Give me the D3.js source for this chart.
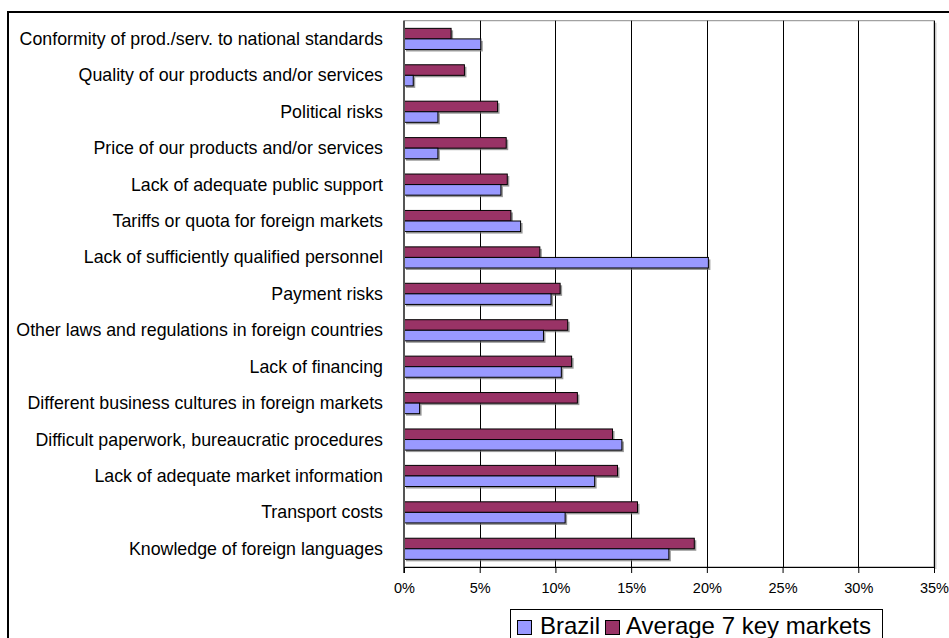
<!DOCTYPE html>
<html><head><meta charset="utf-8">
<script src="https://cdn.jsdelivr.net/npm/d3@7"></script>
<style>body{margin:0;background:#fff}svg{display:block;font-family:"Liberation Sans",Arial,sans-serif}</style>
</head><body>
<svg id="c" width="949" height="638"></svg>
<script>
const categories = [
  "Conformity of prod./serv. to national standards",
  "Quality of our products and/or services",
  "Political risks",
  "Price of our products and/or services",
  "Lack of adequate public support",
  "Tariffs or quota for foreign markets",
  "Lack of sufficiently qualified personnel",
  "Payment risks",
  "Other laws and regulations in foreign countries",
  "Lack of financing",
  "Different business cultures in foreign markets",
  "Difficult paperwork, bureaucratic procedures",
  "Lack of adequate market information",
  "Transport costs",
  "Knowledge of foreign languages"
];
const brazil = [5.07, 0.61, 2.24, 2.24, 6.40, 7.70, 20.1, 9.71, 9.21, 10.39, 1.03, 14.39, 12.59, 10.64, 17.49];
const average7 = [3.11, 3.99, 6.18, 6.75, 6.82, 7.06, 8.97, 10.31, 10.81, 11.07, 11.45, 13.77, 14.10, 15.42, 19.17];
const seriesNames = ["Average 7 key markets", "Brazil"];
const legendNames = ["Brazil", "Average 7 key markets"];
const tickValues = [0, 5, 10, 15, 20, 25, 30, 35];
const colors = {"Brazil": "#9999FF", "Average 7 key markets": "#993366"};

const svg = d3.select("#c");
const L = 404, R = 934, T = 20.7, B = 567;

// outer chart frame
svg.append("rect").attr("x", 8).attr("y", 12).attr("width", 960).attr("height", 660)
  .attr("fill", "none").attr("stroke", "#000").attr("stroke-width", 2);

const x = d3.scaleLinear().domain([0, 35]).range([L, R]);
const y = d3.scaleBand().domain(categories).range([T, B]).paddingInner(0.42).paddingOuter(0.21);
const ys = d3.scaleBand().domain(seriesNames).range([0, y.bandwidth()]);

// plot area border
svg.append("rect").attr("x", L).attr("y", T).attr("width", R - L).attr("height", B - T)
  .attr("fill", "#fff").attr("stroke", "#8c8c8c").attr("stroke-width", 1);
svg.append("line").attr("x1", R + 1.5).attr("x2", R + 1.5).attr("y1", T + 2).attr("y2", B + 2)
  .attr("stroke", "#c8c8c8").attr("stroke-width", 2);

// gridlines
svg.append("g").selectAll("line").data(tickValues.slice(1)).join("line")
  .attr("x1", d => Math.round(x(d)) + 0.5).attr("x2", d => Math.round(x(d)) + 0.5)
  .attr("y1", T).attr("y2", B).attr("stroke", "#000").attr("stroke-width", 1);

// bars
const rows = categories.map((c, i) => ({c, vals: [
  {s: "Average 7 key markets", v: average7[i]},
  {s: "Brazil", v: brazil[i]}
]}));
const g = svg.append("g");
const grp = g.selectAll("g").data(rows).join("g").attr("transform", d => `translate(0,${y(d.c)})`);
grp.selectAll("rect.sh").data(d => d.vals).join("rect").attr("class", "sh")
  .attr("x", L + 2).attr("y", d => ys(d.s) + 2)
  .attr("width", d => x(d.v) - L).attr("height", ys.bandwidth())
  .attr("fill", "#6e6e6e").attr("opacity", 0.7);
grp.selectAll("rect.bar").data(d => d.vals).join("rect").attr("class", "bar")
  .attr("x", L).attr("y", d => ys(d.s))
  .attr("width", d => x(d.v) - L).attr("height", ys.bandwidth())
  .attr("fill", d => colors[d.s]).attr("stroke", "#000").attr("stroke-width", 1);

// left axis line
svg.append("line").attr("x1", L).attr("x2", L).attr("y1", T).attr("y2", B + 6)
  .attr("stroke", "#555").attr("stroke-width", 2);

// category labels
svg.append("g").selectAll("text").data(categories).join("text")
  .attr("x", L - 21).attr("y", d => y(d) + y.bandwidth() / 2)
  .attr("text-anchor", "end").attr("dominant-baseline", "central")
  .attr("font-size", "17.8px").attr("fill", "#000").text(d => d);

// x axis
const xAxis = d3.axisBottom(x).tickValues(tickValues).tickFormat(d => d + "%").tickSize(6).tickPadding(10);
const ax = svg.append("g").attr("transform", `translate(0,${B})`).call(xAxis);
ax.select(".domain").attr("stroke", "#000").attr("stroke-width", 1);
ax.selectAll(".tick line").attr("stroke", "#000");
ax.selectAll(".tick text").attr("font-size", "14.5px").attr("fill", "#000")
  .attr("font-family", '"Liberation Sans",Arial,sans-serif');

// legend
const lg = svg.append("g");
lg.append("rect").attr("x", 510.5).attr("y", 609.5).attr("width", 372).attr("height", 50)
  .attr("fill", "#fff").attr("stroke", "#000").attr("stroke-width", 1);
const items = [{n: legendNames[0], sx: 517, tx: 540}, {n: legendNames[1], sx: 605, tx: 626}];
items.forEach(it => {
  lg.append("rect").attr("x", it.sx + 0.5).attr("y", 620.5).attr("width", 14).attr("height", 14)
    .attr("fill", colors[it.n]).attr("stroke", "#000").attr("stroke-width", 1);
  lg.append("text").attr("x", it.tx).attr("y", 634).attr("font-size", "24px").attr("fill", "#000").text(it.n);
});
</script>
</body></html>
